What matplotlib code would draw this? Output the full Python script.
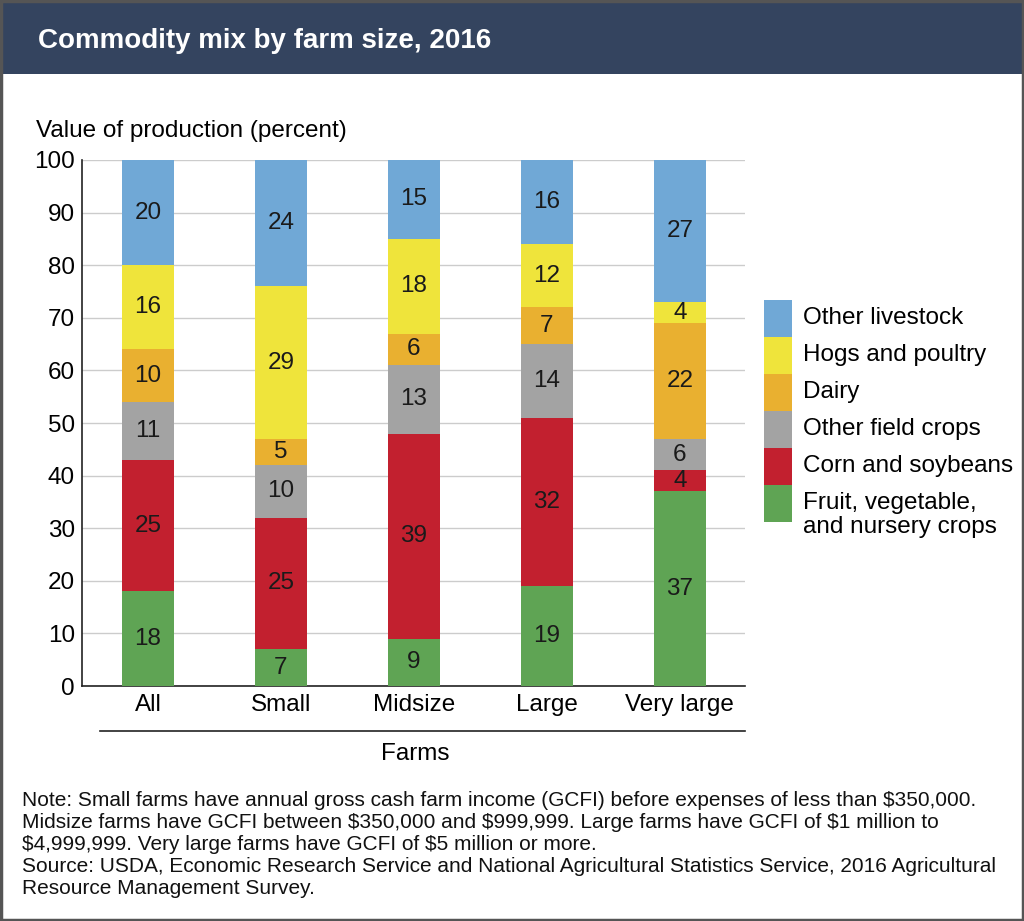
import numpy as np
import matplotlib
matplotlib.use('Agg')
import matplotlib.pyplot as plt
from matplotlib.patches import Rectangle

plt.rcParams['font.family'] = ['Liberation Sans', 'DejaVu Sans']

# data
farms = ['All', 'Small', 'Midsize', 'Large', 'Very large']
fruit_veg = [18, 7, 9, 19, 37]
corn_soy = [25, 25, 39, 32, 4]
other_field = [11, 10, 13, 14, 6]
dairy = [10, 5, 6, 7, 22]
hogs_poultry = [16, 29, 18, 12, 4]
other_livestock = [20, 24, 15, 16, 27]

series = [fruit_veg, corn_soy, other_field, dairy, hogs_poultry, other_livestock]
names = ['Fruit, vegetable,\nand nursery crops', 'Corn and soybeans',
         'Other field crops', 'Dairy', 'Hogs and poultry', 'Other livestock']
colors = ['#5fa454', '#c2202f', '#a3a3a3', '#e9b030', '#efe43b', '#70a8d6']

note_lines = [
    "Note: Small farms have annual gross cash farm income (GCFI) before expenses of less than \\$350,000.",
    "Midsize farms have GCFI between \\$350,000 and \\$999,999. Large farms have GCFI of \\$1 million to",
    "\\$4,999,999. Very large farms have GCFI of \\$5 million or more.",
    "Source: USDA, Economic Research Service and National Agricultural Statistics Service, 2016 Agricultural",
    "Resource Management Survey.",
]

W, H = 1024, 921
fig = plt.figure(figsize=(W / 100, H / 100), dpi=100)
fig.patch.set_facecolor('white')

# header band
fig.patches.append(Rectangle((0, 1 - 74 / H), 1, 74 / H, transform=fig.transFigure,
                             facecolor='#34445f', edgecolor='none', zorder=0))
fig.text(38 / W, 1 - 41 / H, 'Commodity mix by farm size, 2016', color='white',
         fontsize=20, fontweight='bold', va='center', ha='left')
# outer border
fig.patches.append(Rectangle((0.001, 0.001), 0.998, 0.998, transform=fig.transFigure,
                             facecolor='none', edgecolor='#555555', lw=2.5, zorder=5))

ax = fig.add_axes([82 / W, (H - 686) / H, (745 - 82) / W, (686 - 160) / H])
x = np.arange(len(farms))
bottom = np.zeros(len(farms))
for vals, col in zip(series, colors):
    vals = np.array(vals)
    ax.bar(x, vals, width=0.395, bottom=bottom, color=col, zorder=3)
    for xi, b, v in zip(x, bottom, vals):
        ax.text(xi, b + v / 2, str(v), ha='center', va='center', fontsize=17.5,
                color='#1a1a1a', zorder=4)
    bottom += vals

ax.set_xlim(-0.496, 4.49)
ax.set_ylim(0, 100)
ax.set_yticks(np.arange(0, 101, 10))
ax.yaxis.grid(True, color='#cccccc', lw=1, zorder=0)
ax.set_axisbelow(True)
for s in ['top', 'right']:
    ax.spines[s].set_visible(False)
ax.spines['left'].set_color('#222222')
ax.spines['bottom'].set_color('#222222')
ax.spines['left'].set_linewidth(1.2)
ax.spines['bottom'].set_linewidth(1.2)
ax.tick_params(axis='y', length=0, labelsize=17.5, pad=5)
ax.tick_params(axis='x', length=0, labelsize=17.5, pad=6)
ax.set_xticks(x)
ax.set_xticklabels(farms)

fig.text(36 / W, 1 - 131 / H, 'Value of production (percent)', fontsize=17.5,
         va='center', ha='left')

# farms axis label with rule
fig.add_artist(plt.Line2D([100 / W, 745 / W], [1 - 731 / H, 1 - 731 / H],
                          color='#222222', lw=1.2))
fig.text(415 / W, 1 - 754 / H, 'Farms', fontsize=17.5, ha='center', va='center')

# legend
patch_h = 37
y0 = 300
for i, (name, col) in enumerate(zip(names[::-1], colors[::-1])):
    top = y0 + i * patch_h
    fig.patches.append(Rectangle((764 / W, 1 - (top + patch_h) / H), 28 / W, patch_h / H,
                                 transform=fig.transFigure, facecolor=col, edgecolor='none'))
    cy = top + 18 + 12 * name.count('\n')
    fig.text(803 / W, 1 - cy / H, name, fontsize=17.5, ha='left', va='center',
             linespacing=1.15)

# note and source, one line at a time
for i, line in enumerate(note_lines):
    fig.text(22 / W, 1 - (800 + 22 * i) / H, line, fontsize=15, ha='left',
             va='center', color='#111111')

fig.savefig('out.png', dpi=100)
